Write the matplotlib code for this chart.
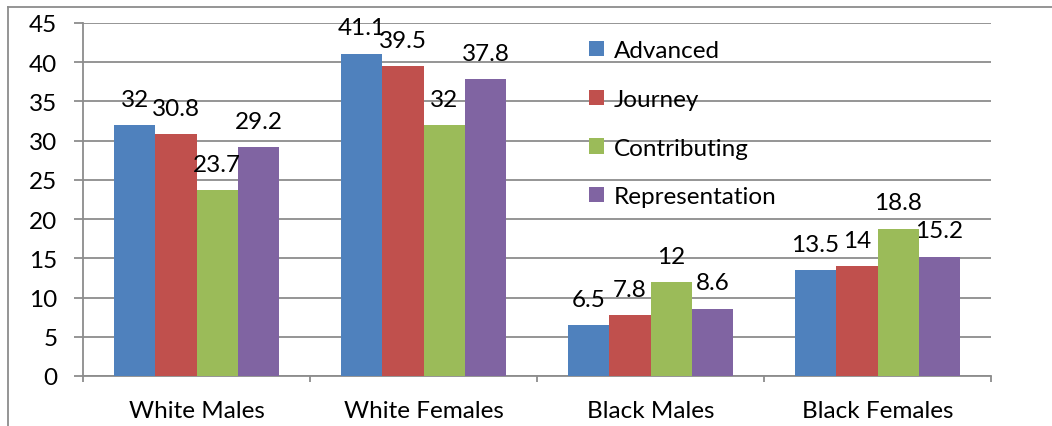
import matplotlib
matplotlib.use("Agg")
import matplotlib.pyplot as plt
import numpy as np
from matplotlib.lines import Line2D

categories = ["White Males", "White Females", "Black Males", "Black Females"]
series_names = ["Advanced", "Journey", "Contributing", "Representation"]
advanced = [32, 41.1, 6.5, 13.5]
journey = [30.8, 39.5, 7.8, 14]
contributing = [23.7, 32, 12, 18.8]
representation = [29.2, 37.8, 8.6, 15.2]
colors = ["#4F81BD", "#C0504D", "#9BBB59", "#8064A2"]

plt.rcParams['font.family'] = ['Lato', 'DejaVu Sans']
FS = 17.5

W, H = 1052, 427
fig = plt.figure(figsize=(W / 100, H / 100), dpi=100)
ax = fig.add_axes([83 / W, (H - 377) / H, (991 - 83) / W, (377 - 24) / H])

grid_c = "#8C8C8C"
values = [advanced, journey, contributing, representation]
n = len(values)
bw = 1 / (n + 1.5)
x = np.arange(len(categories))
for i, (name, vals) in enumerate(zip(series_names, values)):
    pos = x + (i - (n - 1) / 2) * bw
    bars = ax.bar(pos, vals, width=bw, color=colors[i], label=name, zorder=3)
    for b, v in zip(bars, vals):
        ax.annotate(f"{v:g}", (b.get_x() + b.get_width() / 2, v),
                    xytext=(0, 11), textcoords="offset points",
                    ha="center", va="bottom", fontsize=FS, color="black", zorder=4)

ax.set_xlim(-0.5, len(categories) - 0.5)
ax.set_ylim(0, 45)
ax.set_yticks(np.arange(0, 46, 5))
ax.yaxis.grid(True, color=grid_c, linewidth=1.3, zorder=0)
ax.set_axisbelow(True)
for s in ["top", "right"]:
    ax.spines[s].set_visible(False)
for s in ["left", "bottom"]:
    ax.spines[s].set_color(grid_c)
    ax.spines[s].set_linewidth(1.3)
ax.tick_params(axis="y", length=6.5, width=1.3, color=grid_c, labelsize=FS, pad=12)
ax.set_xticks(x)
ax.set_xticklabels(categories, fontsize=FS)
ax.set_xticks(np.arange(-0.5, len(categories), 1), minor=True)
ax.tick_params(axis="x", which="major", length=0, pad=17)
ax.tick_params(axis="x", which="minor", length=4.5, width=1.3, color=grid_c)

leg = ax.legend(loc="upper left", bbox_to_anchor=(0.547, 0.979), frameon=False,
                fontsize=FS, handlelength=0.6, handleheight=0.6, handletextpad=0.4,
                labelspacing=1.14, borderaxespad=0)

# outer chart frame (partially visible)
fig.add_artist(Line2D([8 / W, 8 / W], [0, 1 - 8 / H], transform=fig.transFigure,
                      color="#8C8C8C", linewidth=1.3))
fig.add_artist(Line2D([8 / W, 1], [1 - 8 / H, 1 - 8 / H], transform=fig.transFigure,
                      color="#8C8C8C", linewidth=1.3))

fig.savefig("out.png", dpi=100)
